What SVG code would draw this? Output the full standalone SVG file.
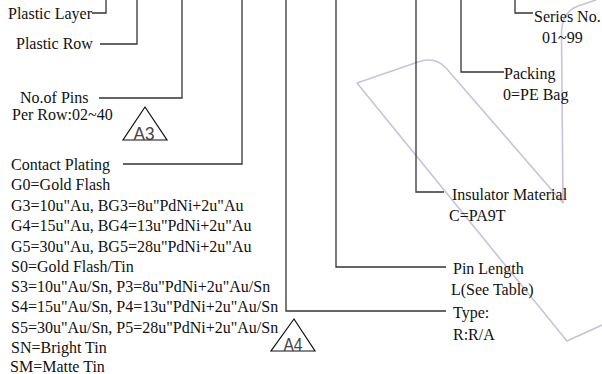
<svg xmlns="http://www.w3.org/2000/svg" width="602" height="374" viewBox="0 0 602 374">
<style>
text{font-family:"Liberation Serif","Times New Roman",serif;font-size:16px;fill:#111}
.c{fill:none;stroke:#333;stroke-width:1.3}
.tri{fill:none;stroke:#111;stroke-width:1.2}
.tag{font-family:"Liberation Sans",Arial,sans-serif;font-size:19px;fill:#444;text-anchor:middle}
.wm{fill:none;stroke:#c4c4dc;stroke-width:1.6;stroke-linejoin:round}
</style>
<rect width="602" height="374" fill="#fff"/>
<path class="wm" d="M602,325 L567,341 L357,83 L418,62 Q435,56 446,68 L563,203 L561.5,34 Q561.5,12 578,6 L596,0"/>
<g id="connectors">
<polyline class="c" points="92,13 106,13 106,0"/>
<polyline class="c" points="100,44 137,44 137,0"/>
<polyline class="c" points="99,98 182,98 182,0"/>
<polyline class="c" points="123,164 242,164 242,0"/>
<polyline class="c" points="446,311 286,311 286,0"/>
<polyline class="c" points="446,267 336,267 336,0"/>
<polyline class="c" points="444,192 416,192 416,0"/>
<polyline class="c" points="504,72 461,72 461,0"/>
<polyline class="c" points="533,13 515,13 515,0"/>
</g>
<g id="plastic-layer"><text x="8" y="18.5">Plastic Layer</text></g>
<g id="plastic-row"><text x="16" y="48.5">Plastic Row</text></g>
<g id="pins"><text x="20" y="102.5">No.of Pins</text><text x="12" y="119.5">Per Row:02~40</text></g>
<g id="a3"><polygon class="tri" points="145,107 123,140 167,140"/><text class="tag" x="144" y="140" textLength="21" lengthAdjust="spacingAndGlyphs">A3</text></g>
<g id="contact-plating">
<text x="11" y="169.5">Contact Plating</text>
<text x="11" y="190">G0=Gold Flash</text>
<text x="11" y="211">G3=10u"Au, BG3=8u"PdNi+2u"Au</text>
<text x="11" y="231">G4=15u"Au, BG4=13u"PdNi+2u"Au</text>
<text x="11" y="252">G5=30u"Au, BG5=28u"PdNi+2u"Au</text>
<text x="11" y="272">S0=Gold Flash/Tin</text>
<text x="11" y="292">S3=10u"Au/Sn, P3=8u"PdNi+2u"Au/Sn</text>
<text x="11" y="312">S4=15u"Au/Sn, P4=13u"PdNi+2u"Au/Sn</text>
<text x="11" y="332.5">S5=30u"Au/Sn, P5=28u"PdNi+2u"Au/Sn</text>
<text x="11" y="352.5">SN=Bright Tin</text>
<text x="10" y="371.5">SM=Matte Tin</text>
</g>
<g id="a4"><polygon class="tri" points="294,319 271,351 315,351"/><text class="tag" x="293" y="351" textLength="19" lengthAdjust="spacingAndGlyphs">A4</text></g>
<g id="series"><text x="534" y="22">Series No.</text><text x="542" y="43">01~99</text></g>
<g id="packing"><text x="504" y="79">Packing</text><text x="503" y="99.5">0=PE Bag</text></g>
<g id="insulator"><text x="452" y="200">Insulator Material</text><text x="449" y="220.5">C=PA9T</text></g>
<g id="pin-length"><text x="453" y="274">Pin Length</text><text x="451" y="295">L(See Table)</text></g>
<g id="type"><text x="453" y="318">Type:</text><text x="453" y="340">R:R/A</text></g>
</svg>
